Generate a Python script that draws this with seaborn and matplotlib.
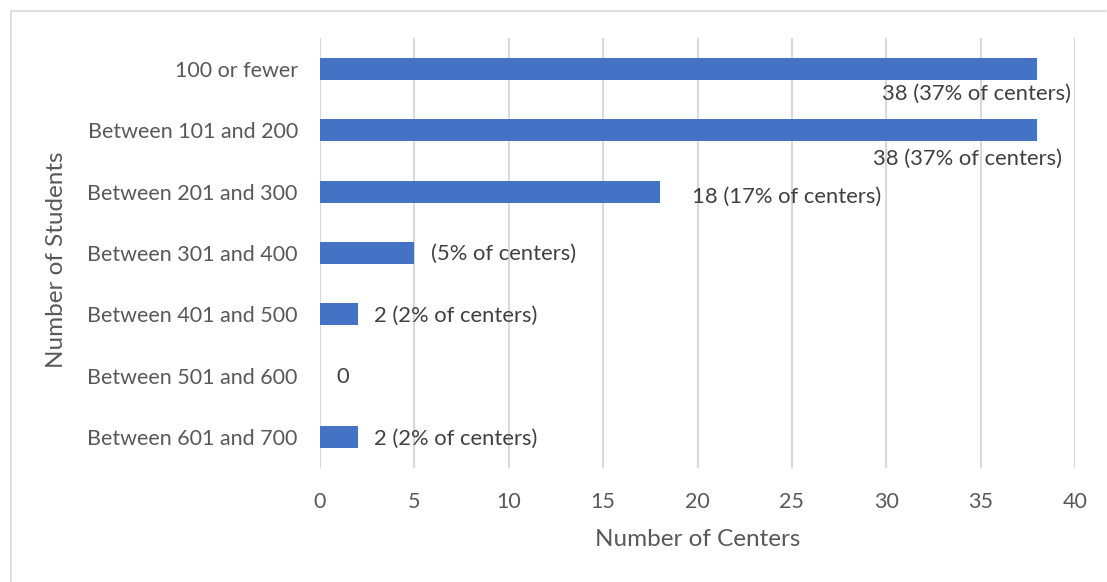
import matplotlib
matplotlib.use("Agg")
import matplotlib.pyplot as plt
import numpy as np
import pandas as pd
import seaborn as sns
from matplotlib.lines import Line2D

categories = ["100 or fewer", "Between 101 and 200", "Between 201 and 300",
              "Between 301 and 400", "Between 401 and 500", "Between 501 and 600",
              "Between 601 and 700"]
centers = [38, 38, 18, 5, 2, 0, 2]
labels = ["38 (37% of centers)", "38 (37% of centers)", "18 (17% of centers)",
          "(5% of centers)", "2 (2% of centers)", "0", "2 (2% of centers)"]

sns.set_style("white")
plt.rcParams['font.family'] = ['Lato', 'DejaVu Sans']

df = pd.DataFrame({"Students": categories, "Centers": centers})

fig = plt.figure(figsize=(11.07, 5.82), dpi=100)
ax = fig.add_axes([320 / 1107, 1 - 468 / 582, (1075 - 320) / 1107, (468 - 38) / 582])

sns.barplot(data=df, y="Students", x="Centers", color="#4472C4", width=0.36,
            saturation=1, linewidth=0, ax=ax, zorder=3)

ax.set_xlim(0, 40)
ax.set_ylim(6.5, -0.5)
ax.set_xticks(np.arange(0, 41, 5))
ax.grid(axis="x", color="#D9D9D9", linewidth=1.5, zorder=0)
for s in ax.spines.values():
    s.set_visible(False)
ax.tick_params(axis="both", length=0, labelsize=15.5, colors="#595959")
ax.tick_params(axis="y", pad=16)
ax.tick_params(axis="x", pad=17)
ax.set_xlabel("")
ax.set_ylabel("")
fig.text(697.5 / 1107, 1 - 539 / 582, "Number of Centers", fontsize=17.5,
         color="#595959", ha="center", va="center")
fig.text(57 / 1107, 1 - 260 / 582, "Number of Students", fontsize=17.5,
         color="#595959", ha="center", va="center", rotation=90)

# label placement as in the original (some sit under the bar ends)
lab_pos = [(34.8, 0.41, "center"), (34.3, 0.46, "center"), (19.7, 0.09, "left"),
           (5.9, 0.02, "left"), (2.85, 0.02, "left"), (0.85, 0.02, "left"),
           (2.85, 0.02, "left")]
for i, (txt, (x, dy, ha)) in enumerate(zip(labels, lab_pos)):
    ax.text(x, i + dy, txt, ha=ha, va="center", fontsize=15.8, color="#404040")

# light frame (top and left edges visible)
fig.add_artist(Line2D([11 / 1107, 1106 / 1107], [1 - 11 / 582, 1 - 11 / 582],
                      color="#D9D9D9", linewidth=1.2))
fig.add_artist(Line2D([11 / 1107, 11 / 1107], [1 - 11 / 582, 0],
                      color="#D9D9D9", linewidth=1.2))

fig.savefig("out.png", dpi=100)
